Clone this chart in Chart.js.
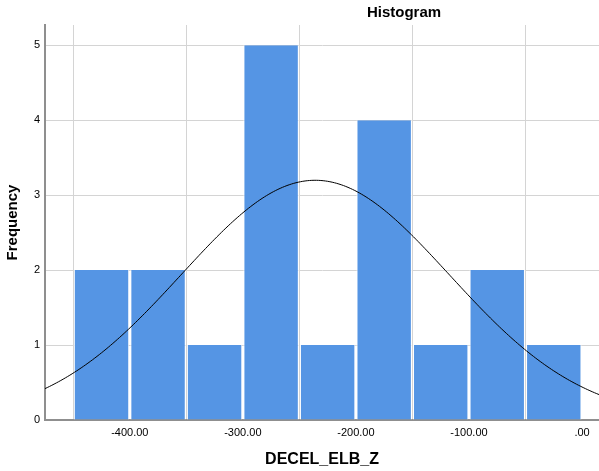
<!DOCTYPE html>
<html>
<head>
<meta charset="utf-8">
<script src="https://cdn.jsdelivr.net/npm/chart.js@4/dist/chart.umd.min.js"></script>
<style>
  html, body { margin: 0; padding: 0; background: #fff; }
  #wrap { width: 599px; height: 471px; position: relative; }
</style>
</head>
<body>
<div id="wrap"><canvas id="c" width="599" height="471"></canvas></div>
<script>
// Bin midpoints (bin width 50) and counts for DECEL_ELB_Z
const binCenters = [-425, -375, -325, -275, -225, -175, -125, -75, -25];
const binCounts = [2, 2, 1, 5, 1, 4, 1, 2, 1];
const binWidth = 50;

// Normal curve parameters
const curveMean = -236;
const curveSD = 118.5;
const curveN = 19;

// Axis ticks
const xTicks = [-400, -300, -200, -100, 0];
const yTicks = [0, 1, 2, 3, 4, 5];

const X_MIN = -475, X_MAX = 15, Y_MAX = 5.27;

// Normal density scaled to counts per bin
const curvePts = [];
for (let x = X_MIN; x <= X_MAX; x += 2) {
  const z = (x - curveMean) / curveSD;
  const y = curveN * binWidth / (curveSD * Math.sqrt(2 * Math.PI)) * Math.exp(-0.5 * z * z);
  curvePts.push({ x: x, y: y });
}

const barPts = binCenters.map((c, i) => ({ x: c, y: binCounts[i] }));

const titlePlugin = {
  id: 'topTitle',
  afterDraw(chart) {
    const ctx = chart.ctx;
    ctx.save();
    ctx.font = 'bold 15px "Liberation Sans", Arial, sans-serif';
    ctx.fillStyle = '#000';
    ctx.textAlign = 'center';
    ctx.textBaseline = 'middle';
    ctx.fillText('Histogram', 404, 13);
    ctx.restore();
  }
};

new Chart(document.getElementById('c'), {
  data: {
    datasets: [
      {
        type: 'line',
        data: curvePts,
        borderColor: '#000',
        borderWidth: 1,
        pointRadius: 0,
        tension: 0,
        fill: false,
        order: 0
      },
      {
        type: 'bar',
        data: barPts,
        backgroundColor: '#5595e4',
        borderColor: '#ffffff',
        borderWidth: { left: 1, right: 1, top: 0, bottom: 0 },
        barPercentage: 0.98,
        categoryPercentage: 1,
        order: 1
      }
    ]
  },
  options: {
    responsive: false,
    animation: false,
    layout: { padding: { top: 25, right: 0, left: 0, bottom: 0 } },
    plugins: { legend: { display: false }, tooltip: { enabled: false } },
    scales: {
      x: {
        type: 'linear',
        min: X_MIN,
        max: X_MAX,
        offset: false,
        afterBuildTicks(s) { s.ticks = xTicks.map(v => ({ value: v })); },
        afterFit(s) { s.height = 51; },
        ticks: {
          padding: 6,
          color: '#000',
          font: { family: '"Liberation Sans", Arial, sans-serif', size: 11 },
          callback: v => v === 0 ? '.00' : v.toFixed(2)
        },
        grid: { color: '#d4d4d4', lineWidth: 1, drawTicks: false },
        border: { color: '#8f8f8f', width: 2 },
        title: {
          display: true,
          text: 'DECEL_ELB_Z',
          color: '#000',
          font: { family: '"Liberation Sans", Arial, sans-serif', size: 16, weight: 'bold' },
          padding: { top: 0, bottom: 2 }
        }
      },
      y: {
        type: 'linear',
        min: 0,
        max: Y_MAX,
        afterBuildTicks(s) { s.ticks = yTicks.map(v => ({ value: v })); },
        afterFit(s) { s.width = 45; },
        ticks: {
          padding: 5,
          color: '#000',
          font: { family: '"Liberation Sans", Arial, sans-serif', size: 11 }
        },
        grid: { color: '#d4d4d4', lineWidth: 1, drawTicks: false },
        border: { color: '#8f8f8f', width: 2 },
        title: {
          display: true,
          text: 'Frequency',
          color: '#000',
          font: { family: '"Liberation Sans", Arial, sans-serif', size: 15, weight: 'bold' },
          padding: { top: 4, bottom: 0 }
        }
      }
    }
  },
  plugins: [titlePlugin]
});
</script>
</body>
</html>
